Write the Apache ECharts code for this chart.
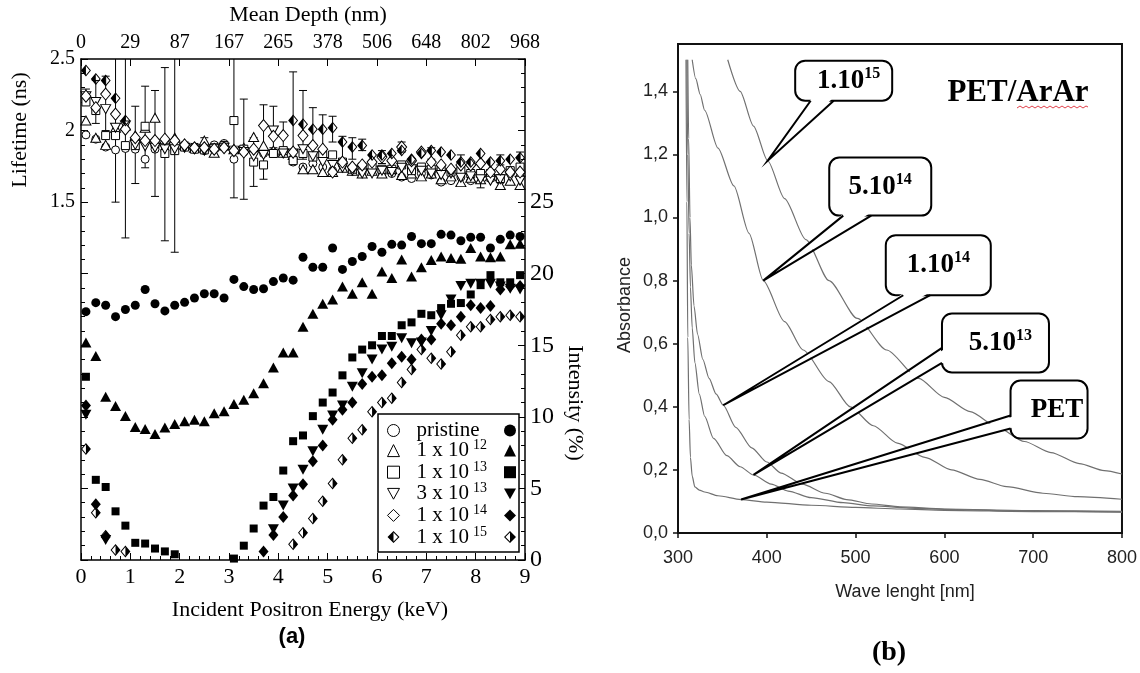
<!DOCTYPE html>
<html><head><meta charset="utf-8">
<script src="https://cdn.jsdelivr.net/npm/echarts@6/dist/echarts.min.js"></script>
<style>html,body{margin:0;padding:0;background:#fff}#c{width:1140px;height:673px}</style>
</head><body><div id="c"></div>
<script>
// ---------------- DATA : panel (a) ----------------
const energy = [0.1,0.3,0.5,0.7,0.9,1.1,1.3,1.5,1.7,1.9,2.1,2.3,2.5,2.7,2.9,3.1,3.3,3.5,3.7,3.9,4.1,4.3,4.5,4.7,4.9,5.1,5.3,5.5,5.7,5.9,6.1,6.3,6.5,6.7,6.9,7.1,7.3,7.5,7.7,7.9,8.1,8.3,8.5,8.7,8.9];
const energyTicks = [0,1,2,3,4,5,6,7,8,9];
const depthLabels = ['0','29','87','167','265','378','506','648','802','968'];
const lifetimeTicks = [1.5,2,2.5];
const intensityTicks = [0,5,10,15,20,25];
const doseNames = ['pristine','1 x 10^12','1 x 10^13','3 x 10^13','1 x 10^14','1 x 10^15'];

const lifePristine = [1.97,1.94,1.885,1.865,1.875,1.87,1.80,1.87,1.86,1.875,1.885,1.87,1.86,1.90,1.91,1.80,1.85,1.85,1.84,1.85,1.84,1.78,1.745,1.77,1.745,1.72,1.76,1.715,1.71,1.72,1.71,1.70,1.675,1.665,1.70,1.69,1.64,1.65,1.675,1.65,1.69,1.665,1.65,1.71,1.675];
const life1e12 = [2.07,1.95,1.90,2.02,2.035,1.965,2.02,2.09,1.94,1.95,1.90,1.88,1.93,1.845,1.895,1.87,1.88,1.955,1.895,1.86,1.845,1.83,1.73,1.73,1.71,1.71,1.74,1.72,1.70,1.72,1.70,1.73,1.69,1.70,1.68,1.70,1.66,1.68,1.64,1.67,1.66,1.68,1.62,1.65,1.62];
const life1e13 = [2.20,2.14,1.965,1.965,1.895,1.895,2.03,1.91,1.84,1.86,1.885,1.87,1.865,1.88,1.895,2.07,1.87,1.78,1.76,1.84,1.86,1.79,1.84,1.815,1.83,1.83,1.78,1.73,1.745,1.745,1.73,1.73,1.76,1.72,1.745,1.73,1.73,1.71,1.72,1.70,1.70,1.70,1.665,1.72,1.745];
const life3e13 = [2.24,2.20,2.15,2.02,2.035,1.90,1.89,1.88,1.87,1.87,1.88,1.87,1.86,1.87,1.88,1.86,1.85,1.82,1.83,2.00,1.84,1.84,1.87,1.82,1.78,1.76,1.74,1.72,1.70,1.70,1.72,1.71,1.74,1.73,1.72,1.70,1.69,1.70,1.67,1.68,1.66,1.65,1.66,1.68,1.65];
const life1e14 = [2.24,2.16,2.255,2.115,2.01,1.95,1.93,1.93,1.94,1.93,1.90,1.88,1.88,1.87,1.88,1.86,1.85,1.87,2.035,1.96,1.965,1.85,1.965,1.895,1.87,1.71,1.78,1.745,1.76,1.78,1.815,1.79,1.885,1.79,1.85,1.78,1.76,1.73,1.76,1.76,1.77,1.71,1.73,1.71,1.71];
const life1e15 = [2.42,2.36,2.35,2.225,2.07,null,null,null,null,null,null,null,null,null,null,null,null,null,null,null,null,2.07,2.045,2.01,2.01,2.02,1.92,1.885,1.895,1.83,1.83,1.84,1.86,1.80,1.84,1.86,1.85,1.83,1.78,1.78,1.84,1.78,1.79,1.80,1.81];

const intPristine = [17.35,17.98,17.8,17.0,17.5,17.8,18.9,17.9,17.4,17.8,18.0,18.3,18.6,18.6,18.3,19.6,19.1,18.9,18.95,19.45,19.7,19.55,21.15,20.45,20.45,21.8,20.3,20.85,21.2,21.9,21.5,22.05,22.0,22.6,22.1,22.1,22.75,22.7,22.3,22.55,22.55,21.8,22.4,22.7,22.6];
const int1e12 = [15.2,14.25,11.4,10.75,10.06,9.3,9.15,8.8,9.25,9.5,9.7,9.8,9.7,10.25,10.4,10.9,11.2,11.65,12.35,13.45,14.5,14.5,16.3,17.2,17.9,18.2,19.1,18.6,19.4,18.6,20.15,19.7,21.0,19.8,20.45,20.95,21.2,21.1,21.05,21.8,21.2,21.15,21.2,22.05,22.1];
const int1e13 = [12.8,5.6,5.1,3.4,2.4,1.2,1.15,0.8,0.6,0.4,null,null,null,null,null,0.1,1.0,2.2,3.8,4.4,6.25,8.3,8.7,10.05,11.0,11.7,12.9,14.15,14.7,15.0,15.65,15.65,16.4,16.6,17.2,17.1,17.6,17.9,17.95,18.55,19.2,19.9,19.4,19.4,19.9];
const int3e13 = [10.15,null,1.4,null,null,null,null,null,null,null,null,null,null,null,null,null,null,null,null,2.15,3.8,5.0,6.3,7.6,9.1,10.1,10.8,12.1,13.05,14.0,14.7,14.9,15.5,15.15,15.2,16.0,17.1,18.2,19.15,19.3,19.3,19.3,19.1,18.95,18.9];
const int1e14 = [10.8,3.9,1.6,null,null,null,null,null,null,null,null,null,null,null,null,null,null,null,0.6,1.75,3.0,4.5,5.3,6.9,8.0,9.8,10.5,11.0,12.3,12.8,12.9,13.75,14.2,14.0,15.4,15.4,16.5,16.4,17.0,17.8,17.6,17.75,18.9,19.1,19.15];
const int1e15 = [7.75,3.3,1.7,0.7,0.6,null,null,null,null,null,null,null,null,null,null,null,null,null,null,null,null,1.1,1.9,2.9,4.1,5.35,7.0,8.5,9.1,10.35,11.0,11.3,12.4,13.3,14.7,14.1,13.7,14.55,15.7,16.3,16.3,16.8,17.0,17.1,17.0];

// error bars: [energy, low, high] (ns)
const lifeErrors = [[0.1,2.19,2.29],[0.3,2.05,2.35],[0.5,2.0,2.38],[0.7,1.50,2.6],[0.9,1.25,2.6],[1.1,1.63,2.17],[1.3,1.74,2.31],[1.5,1.54,2.28],[1.7,1.23,2.44],[1.9,1.15,2.6],[2.1,1.86,1.92],[2.3,1.86,1.91],[2.5,1.90,1.95],[2.7,1.82,1.87],[2.9,1.89,1.92],[3.1,1.53,2.6],[3.3,1.52,2.22],[3.5,1.61,1.95],[3.7,1.66,2.18],[3.9,1.88,2.17],[4.1,1.85,2.06],[4.3,1.79,2.41],[4.5,1.80,2.28],[4.7,1.82,2.16],[4.9,1.88,2.11],[5.1,1.92,2.10],[5.3,1.78,1.96],[5.5,1.80,1.95],[5.7,1.86,1.94],[6.1,1.77,1.86],[6.5,1.85,1.92],[7.1,1.80,1.88],[7.7,1.72,1.83],[8.1,1.60,1.72],[8.5,1.76,1.83],[8.9,1.75,1.85]];

// ---------------- DATA : panel (b) ----------------
const wlTicks = [300,400,500,600,700,800];
const absTicks = [0,0.2,0.4,0.6,0.8,1.0,1.2,1.4];
const curvePET = [[309,1.5],[310,1.05],[311,0.62],[312.5,0.36],[314,0.24],[316,0.18],[319,0.146],[324,0.136],[330,0.13],[345,0.118],[371,0.106],[400,0.098],[450,0.088],[500,0.081],[550,0.076],[600,0.072],[700,0.068],[800,0.066]];
const curve5e13 = [[310,1.5],[311,1.2],[312.5,0.95],[314,0.78],[316,0.65],[319,0.54],[324,0.44],[330,0.37],[340,0.30],[355,0.245],[370,0.21],[385,0.184],[405,0.155],[424,0.133],[450,0.112],[486,0.096],[520,0.086],[560,0.079],[600,0.075],[700,0.069],[800,0.067]];
const curve1e14 = [[311,1.5],[312,1.25],[313.5,1.0],[315,0.85],[318,0.72],[322,0.63],[328,0.55],[335,0.49],[343,0.44],[351,0.405],[365,0.335],[383,0.27],[400,0.225],[416,0.19],[440,0.155],[466,0.126],[490,0.106],[518,0.092],[550,0.083],[600,0.076],[700,0.071],[800,0.069]];
const curve5e14 = [[316,1.5],[320,1.44],[325,1.39],[330,1.34],[345,1.22],[363,1.10],[380,0.95],[396,0.80],[420,0.67],[441,0.58],[470,0.48],[494,0.40],[520,0.34],[547,0.285],[578,0.24],[608,0.20],[640,0.17],[670,0.147],[711,0.126],[750,0.115],[800,0.107]];
const curve1e15 = [[356,1.5],[370,1.40],[385,1.29],[401,1.18],[420,1.06],[444,0.93],[470,0.80],[502,0.68],[535,0.58],[571,0.49],[600,0.43],[629,0.385],[660,0.335],[690,0.29],[720,0.255],[752,0.22],[780,0.198],[800,0.187]];
const calloutLabels = ['1.10^15','5.10^14','1.10^14','5.10^13','PET'];
const calloutTips = [[401,1.18],[396,0.80],[351,0.405],[385,0.184],[371,0.106]];

// ---------------- layout / style ----------------
const calloutLayout = [
  {dx:76, dy:-80, w:97, h:40, side:'bottom', t1:-33, t2:-10, tx:5},
  {dx:117, dy:-94, w:102, h:58, side:'bottom', t1:-37, t2:-9, tx:0},
  {dx:215, dy:-140, w:105, h:60, side:'bottom', t1:-35, t2:-8, tx:0},
  {dx:242, dy:-132, w:107, h:59, side:'left', t1:5, t2:20, tx:5},
  {dx:308, dy:-90, w:77, h:58, side:'left', t1:6, t2:19, tx:8}
];
const SERIF = '"Liberation Serif", "Times New Roman", serif';
const NARROW = '"Liberation Sans Narrow", "Liberation Sans", Arial, sans-serif';
const SANS = '"Liberation Sans", Arial, sans-serif';
const halfL = 'path://M0,-10L10,0L0,10L-10,0ZM0,-7.5L-7.5,0L0,7.5L7.5,0ZM0,-10L0,10L-10,0Z';
const halfR = 'path://M0,-10L10,0L0,10L-10,0ZM0,-7.5L-7.5,0L0,7.5L7.5,0ZM0,-10L10,0L0,10Z';
const downTri = 'path://M0,10L-10,-8L10,-8Z';
const lifeSym = [['circle',8],['triangle',[10,9]],['rect',8],[downTri,[10,9]],['diamond',[10,12]],[halfL,[10,12]]];
const intSym = [['circle',9],['triangle',[11,10]],['rect',8],[downTri,[11,10]],['diamond',[10,12]],[halfR,[10,12]]];
const lifeArr = [lifePristine,life1e12,life1e13,life3e13,life1e14,life1e15];
const intArr = [intPristine,int1e12,int1e13,int3e13,int1e14,int1e15];

function pairs(arr){ const out=[]; energy.forEach((e,i)=>{ if(arr[i]!=null) out.push([e,arr[i]]); }); return out; }
function richName(n){ const m = n.split('^'); return m.length>1 ? '{t|'+m[0]+'}{sup|'+m[1]+'}' : '{t|'+n+'}'; }
function fmt(v){ return v.toFixed(1).replace('.', ','); }

const series = [];
series.push({
  type:'custom', xAxisIndex:0, yAxisIndex:0, z:1, clip:true, silent:true,
  data: lifeErrors,
  encode:{x:0, y:[1,2]},
  renderItem:function(params, api){
    const x = api.value(0);
    const a = api.coord([x, api.value(1)]), b = api.coord([x, api.value(2)]);
    const st = {stroke:'#000', lineWidth:1};
    return {type:'group', children:[
      {type:'line', shape:{x1:a[0],y1:a[1],x2:b[0],y2:b[1]}, style:st},
      {type:'line', shape:{x1:a[0]-4,y1:a[1],x2:a[0]+4,y2:a[1]}, style:st},
      {type:'line', shape:{x1:b[0]-4,y1:b[1],x2:b[0]+4,y2:b[1]}, style:st}
    ]};
  }
});
doseNames.forEach((n,i)=>{
  const filled = i===5;
  series.push({
    name:n, type:'scatter', xAxisIndex:0, yAxisIndex:0, z:3,
    symbol: lifeSym[i][0], symbolSize: lifeSym[i][1],
    itemStyle: filled ? {color:'#000', borderWidth:0, opacity:1} : {color:'#fff', borderColor:'#000', borderWidth:1, opacity:1},
    data: pairs(lifeArr[i])
  });
});
doseNames.forEach((n,i)=>{
  series.push({
    name:n+' I', type:'scatter', xAxisIndex:0, yAxisIndex:1, z:3,
    symbol: intSym[i][0], symbolSize: intSym[i][1],
    itemStyle:{color:'#000', borderWidth:0, opacity:1},
    data: pairs(intArr[i])
  });
});
const curves = [curvePET, curve5e13, curve1e14, curve5e14, curve1e15];
curves.forEach((c)=>{
  series.push({type:'line', xAxisIndex:2, yAxisIndex:2, data:c, showSymbol:false, smooth:0.25, smoothMonotone:'x',
    lineStyle:{color:'#707070', width:1.2}, silent:true, z:2});
});
series.push({
  type:'custom', xAxisIndex:2, yAxisIndex:2, z:5, clip:false, silent:true,
  data: calloutTips.map((p,i)=>[p[0],p[1],i]),
  renderItem:function(params, api){
    const i = api.value(2);
    const L = calloutLayout[i];
    const tip = api.coord([api.value(0), api.value(1)]);
    const cx = tip[0]+L.dx, cy = tip[1]+L.dy;
    const x0 = cx-L.w/2, y0 = cy-L.h/2;
    let b1,b2,c1,c2;
    if (L.side==='bottom'){ b1=[cx+L.t1,y0+L.h]; b2=[cx+L.t2,y0+L.h]; c1=[b1[0]+1,b1[1]-2.5]; c2=[b2[0]-1,b2[1]-2.5]; }
    else { b1=[x0,cy+L.t1]; b2=[x0,cy+L.t2]; c1=[b1[0]+2.5,b1[1]+1]; c2=[b2[0]+2.5,b2[1]-1]; }
    const parts = calloutLabels[i].split('^');
    const txt = parts.length>1 ? parts[0]+'{sup|'+parts[1]+'}' : parts[0];
    return {type:'group', children:[
      {type:'rect', shape:{x:x0,y:y0,width:L.w,height:L.h,r:10}, style:{fill:'#fff',stroke:'#000',lineWidth:2}},
      {type:'polygon', shape:{points:[c1,c2,tip]}, style:{fill:'#fff'}},
      {type:'polyline', shape:{points:[b1,tip,b2]}, style:{fill:null, stroke:'#000', lineWidth:2}},
      {type:'text', style:{text:txt, x:cx+L.tx, y:cy, align:'center', verticalAlign:'middle', textAlign:'center', textVerticalAlign:'middle',
        fontFamily:SERIF, fontWeight:'bold', fontSize:27, lineHeight:30, fill:'#000',
        rich:{sup:{fontFamily:SERIF, fontWeight:'bold', fontSize:16, lineHeight:16, padding:[0,0,14,0], fill:'#000'}}}}
    ]};
  }
});

const axA = {color:'#000', width:1.5};
const legendText = (col)=>({fontFamily:SERIF, fontSize:21, lineHeight:18, color:col,
  rich:{t:{fontFamily:SERIF, fontSize:21, lineHeight:18, padding:[0,0,0,12], color:col},
        sup:{fontFamily:SERIF, fontSize:14, lineHeight:8, padding:[0,0,10,4], color:col}}});
const option = {
  animation:false,
  backgroundColor:'#fff',
  grid:[
    {left:81, top:59, width:444, height:501, show:false},
    {left:678, top:44, width:444, height:489, show:true, borderColor:'#111', borderWidth:2, backgroundColor:'transparent'}
  ],
  xAxis:[
    {gridIndex:0, type:'value', position:'bottom', min:0, max:9, interval:1,
      axisLine:{show:true, onZero:false, lineStyle:axA},
      axisTick:{show:true, inside:true, length:7, lineStyle:{color:'#000', width:1}},
      minorTick:{show:true, splitNumber:5, length:4, lineStyle:{color:'#000', width:1}},
      splitLine:{show:false},
      axisLabel:{fontFamily:SERIF, fontSize:22, color:'#000', margin:6, customValues:energyTicks}},
    {gridIndex:0, type:'value', position:'top', min:0, max:9, interval:1,
      axisLine:{show:true, onZero:false, lineStyle:axA},
      axisTick:{show:true, inside:true, length:7, lineStyle:{color:'#000', width:1}},
      splitLine:{show:false},
      axisLabel:{fontFamily:SERIF, fontSize:20, color:'#000', margin:6, formatter:(v)=>depthLabels[Math.round(v)]}},
    {gridIndex:1, type:'value', min:300, max:800, interval:100,
      axisLine:{show:true, onZero:false, lineStyle:{color:'#111', width:2}},
      axisTick:{show:true, inside:false, length:5, lineStyle:{color:'#111', width:1.5}},
      splitLine:{show:false},
      axisLabel:{fontFamily:NARROW, fontSize:18, color:'#222', margin:16, customValues:wlTicks}}
  ],
  yAxis:[
    {gridIndex:0, type:'value', position:'left', min:-1, max:2.5, interval:0.5,
      axisLine:{show:true, onZero:false, lineStyle:axA},
      axisTick:{show:true, inside:true, length:7, lineStyle:{color:'#000', width:1}},
      minorTick:{show:true, splitNumber:5, length:4, lineStyle:{color:'#000', width:1}},
      splitLine:{show:false},
      axisLabel:{fontFamily:SERIF, fontSize:20, color:'#000', margin:6, customValues:lifetimeTicks, formatter:(v)=>String(v)}},
    {gridIndex:0, type:'value', position:'right', min:0, max:35, interval:5,
      axisLine:{show:true, onZero:false, lineStyle:axA},
      axisTick:{show:true, inside:true, length:7, lineStyle:{color:'#000', width:1}},
      minorTick:{show:true, splitNumber:5, length:4, lineStyle:{color:'#000', width:1}},
      splitLine:{show:false},
      axisLabel:{fontFamily:SERIF, fontSize:24, color:'#000', margin:5, customValues:intensityTicks}},
    {gridIndex:1, type:'value', min:0, max:1.55, interval:0.2,
      axisLine:{show:true, onZero:false, lineStyle:{color:'#111', width:2}},
      axisTick:{show:true, inside:false, length:5, customValues:absTicks, lineStyle:{color:'#111', width:1.5}},
      splitLine:{show:false},
      axisLabel:{fontFamily:NARROW, fontSize:18, color:'#222', margin:10, customValues:absTicks, formatter:fmt}}
  ],
  legend:[
    {left:387, top:420, orient:'vertical', padding:0, itemWidth:12, itemHeight:12, itemGap:-2.4, selectedMode:false, z:6,
      data: doseNames.map((n,i)=>({name:n, itemStyle: i===5 ? {color:'#000', borderWidth:0} : {color:'#fff', borderColor:'#000', borderWidth:1}})),
      formatter:(n)=>richName(n),
      textStyle:legendText('#000')},
    {left:504, top:420, orient:'vertical', padding:0, itemWidth:12, itemHeight:12, itemGap:-2.4, selectedMode:false, z:6,
      data: doseNames.map((n)=>({name:n+' I', itemStyle:{color:'#000', borderWidth:0}})),
      formatter:(n)=>richName(n.slice(0,-2)),
      textStyle:legendText('rgba(0,0,0,0)')}
  ],
  graphic:[
    {type:'rect', z:4, shape:{x:378, y:414, width:141, height:138}, style:{fill:'#fff', stroke:'#000', lineWidth:1.5}},
    {type:'text', x:308, y:15, style:{text:'Mean Depth (nm)', font:'22px '+SERIF, fill:'#000', align:'center', verticalAlign:'middle', textAlign:'center', textVerticalAlign:'middle'}},
    {type:'text', x:20, y:130, rotation:Math.PI/2, style:{text:'Lifetime (ns)', font:'22px '+SERIF, fill:'#000', align:'center', verticalAlign:'middle', textAlign:'center', textVerticalAlign:'middle'}},
    {type:'text', x:575, y:403, rotation:-Math.PI/2, style:{text:'Intensity (%)', font:'22px '+SERIF, fill:'#000', align:'center', verticalAlign:'middle', textAlign:'center', textVerticalAlign:'middle'}},
    {type:'text', x:310, y:610, style:{text:'Incident Positron Energy (keV)', font:'22px '+SERIF, fill:'#000', align:'center', verticalAlign:'middle', textAlign:'center', textVerticalAlign:'middle'}},
    {type:'text', x:292, y:637, style:{text:'(a)', font:'bold 22px '+SANS, fill:'#000', align:'center', verticalAlign:'middle', textAlign:'center', textVerticalAlign:'middle'}},
    {type:'text', x:625, y:305, rotation:Math.PI/2, style:{text:'Absorbance', font:'18px '+SANS, fill:'#222', align:'center', verticalAlign:'middle', textAlign:'center', textVerticalAlign:'middle'}},
    {type:'text', x:905, y:592, style:{text:'Wave lenght [nm]', font:'18px '+NARROW, fill:'#222', align:'center', verticalAlign:'middle', textAlign:'center', textVerticalAlign:'middle'}},
    {type:'text', x:889, y:653, style:{text:'(b)', font:'bold 28px '+SERIF, fill:'#000', align:'center', verticalAlign:'middle', textAlign:'center', textVerticalAlign:'middle'}},
    {type:'text', x:1018, y:93, z:6, style:{text:'PET/ArAr', font:'bold 31px '+SERIF, fill:'#000', align:'center', verticalAlign:'middle', textAlign:'center', textVerticalAlign:'middle'}},
    {type:'polyline', z:6, shape:{points:[[1017,108],[1020,106],[1023,108],[1026,106],[1029,108],[1032,106],[1035,108],[1038,106],[1041,108],[1044,106],[1047,108],[1050,106],[1053,108],[1056,106],[1059,108],[1062,106],[1065,108],[1068,106],[1071,108],[1074,106],[1077,108],[1080,106],[1083,108],[1086,106],[1088,107]]}, style:{stroke:'#e0404a', lineWidth:1, fill:null}}
  ],
  series: series
};
const chart = echarts.init(document.getElementById('c'));
chart.setOption(option);
</script></body></html>
